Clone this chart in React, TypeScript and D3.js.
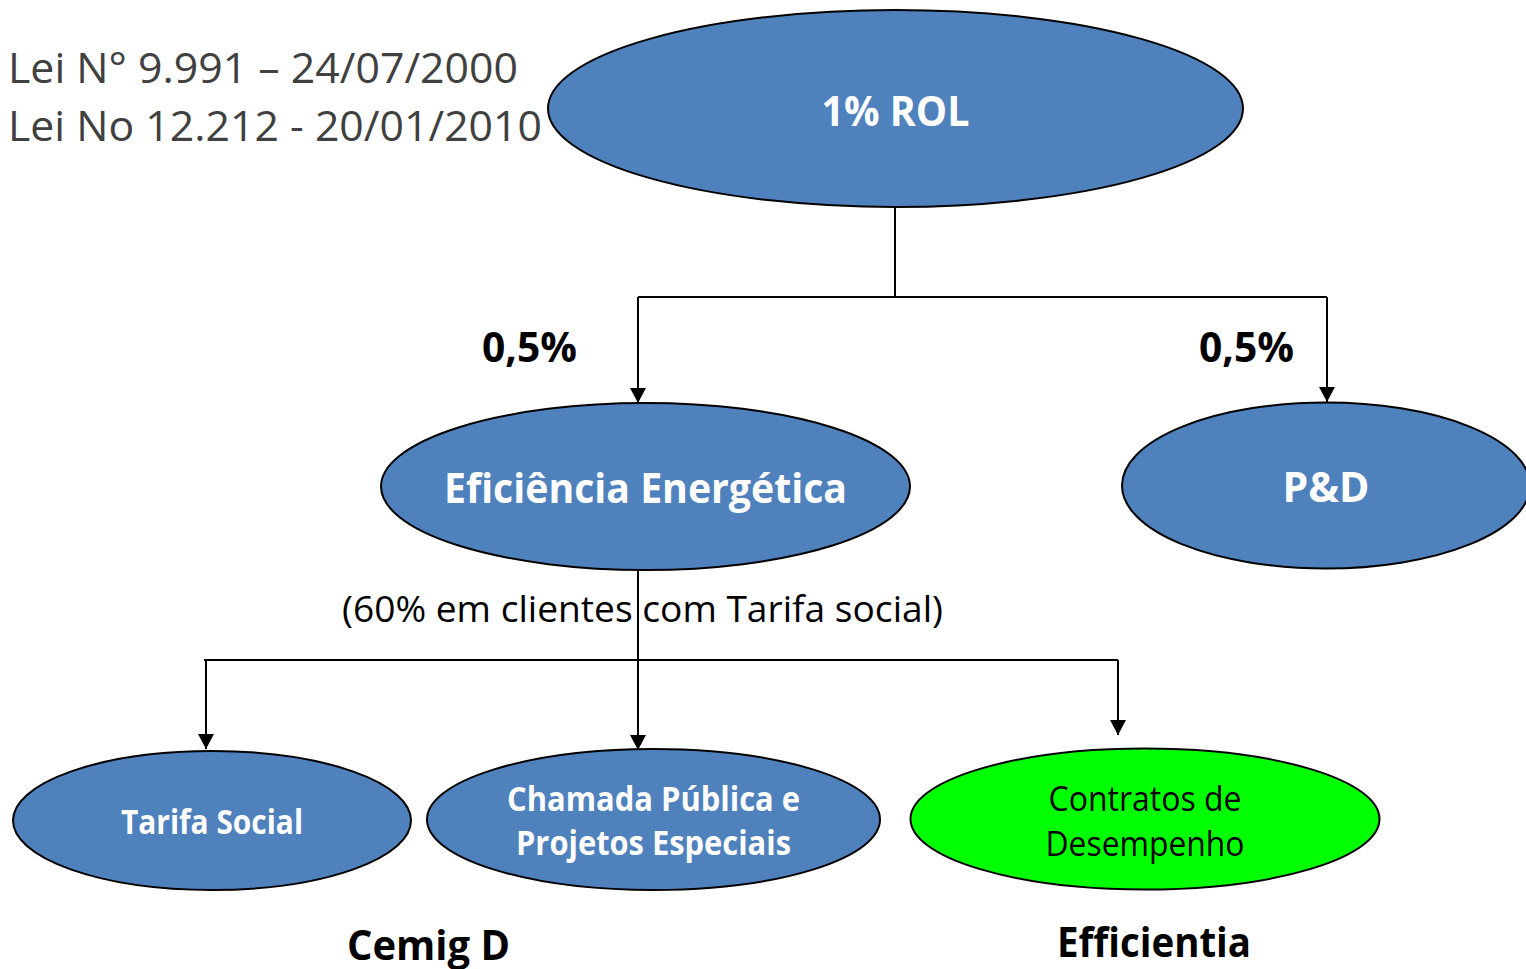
import React, { useEffect, useRef } from 'react';
import * as d3 from 'd3';

// node labels (multi-line labels are split by "\n")
const nodeIds = ['rol', 'ee', 'pd', 'ts', 'cp', 'cd'];
const nodeLabels = ['1% ROL', 'Eficiência Energética', 'P&D', 'Tarifa Social', 'Chamada Pública e\nProjetos Especiais', 'Contratos de\nDesempenho'];
const nodeFills = ['#4F81BD', '#4F81BD', '#4F81BD', '#4F81BD', '#4F81BD', '#00FF00'];
const nodeTextColors = ['#ffffff', '#ffffff', '#ffffff', '#ffffff', '#ffffff', '#000000'];
const nodeBold = [true, true, true, true, true, false];

const lawLines = ['Lei N° 9.991 – 24/07/2000', 'Lei No 12.212 - 20/01/2010'];
const shareLabels = ['0,5%', '0,5%'];
const noteLabel = '(60% em clientes com Tarifa social)';
const groupLabels = ['Cemig D', 'Efficientia'];

const W = 1526;
const H = 969;
const FONT = "'Open Sans', 'DejaVu Sans', sans-serif";

// layout of the diagram
const layout: Record<string, { cx: number; cy: number; rx: number; ry: number; size: number; lines: number[]; widths: number[] }> = {
  rol: { cx: 895.5, cy: 108.5, rx: 347.5, ry: 98.5, size: 42, lines: [126], widths: [148] },
  ee: { cx: 645.5, cy: 486.5, rx: 264.5, ry: 83.5, size: 42, lines: [503], widths: [403] },
  pd: { cx: 1326, cy: 485.5, rx: 204, ry: 83, size: 42, lines: [502], widths: [87] },
  ts: { cx: 212, cy: 820.5, rx: 199, ry: 69.5, size: 34, lines: [834], widths: [182] },
  cp: { cx: 653.5, cy: 819.5, rx: 226.5, ry: 70.5, size: 34, lines: [811, 855], widths: [293, 275] },
  cd: { cx: 1145, cy: 819, rx: 234.5, ry: 70.5, size: 34, lines: [811, 856], widths: [193, 199] },
};

export default function App() {
  const ref = useRef<SVGSVGElement | null>(null);

  useEffect(() => {
    if (!ref.current) return;
    const svg = d3.select(ref.current);
    svg.selectAll('*').remove();

    svg.append('rect').attr('width', W).attr('height', H).attr('fill', '#ffffff');

    const defs = svg.append('defs');
    defs
      .append('marker')
      .attr('id', 'arrow')
      .attr('viewBox', '0 0 16 15')
      .attr('refX', 8)
      .attr('refY', 15)
      .attr('markerWidth', 16)
      .attr('markerHeight', 15)
      .attr('markerUnits', 'userSpaceOnUse')
      .attr('orient', 'auto-start-reverse')
      .append('path')
      .attr('d', 'M0,0 L16,0 L8,15 Z')
      .attr('fill', '#000');

    const line = d3.line<[number, number]>();
    const conn = svg.append('g').attr('fill', 'none').attr('stroke', '#000').attr('stroke-width', 2);

    const rol = layout.rol, ee = layout.ee, pd = layout.pd;
    // top split
    conn.append('path').attr('d', line([[rol.cx - 0.5, rol.cy + rol.ry], [rol.cx - 0.5, 297]]));
    conn.append('path').attr('d', line([[638, 297], [1327, 297]]));
    conn
      .append('path')
      .attr('d', line([[638, 297], [638, ee.cy - ee.ry - 0.5]]))
      .attr('marker-end', null);
    conn.append('path').attr('d', line([[1327, 297], [1327, pd.cy - pd.ry - 0.5]]));

    // bottom split
    conn.append('path').attr('d', line([[638, ee.cy + ee.ry], [638, 749]]));
    conn.append('path').attr('d', line([[204, 660], [1118, 660]]));
    conn.append('path').attr('d', line([[206, 660], [206, 749]]));
    conn.append('path').attr('d', line([[1118, 660], [1118, 735]]));

    // arrowheads
    const heads: [number, number][] = [
      [638, 403],
      [1327, 402],
      [206, 749],
      [638, 750],
      [1118, 735],
    ];
    svg
      .append('g')
      .selectAll('path')
      .data(heads)
      .enter()
      .append('path')
      .attr('d', (d) => `M${d[0] - 8},${d[1] - 15} L${d[0] + 8},${d[1] - 15} L${d[0]},${d[1]} Z`)
      .attr('fill', '#000');

    // nodes
    const nodes = nodeIds.map((id, i) => ({
      id,
      label: nodeLabels[i],
      fill: nodeFills[i],
      color: nodeTextColors[i],
      bold: nodeBold[i],
      ...layout[id],
    }));

    const g = svg.append('g');
    const node = g.selectAll('g.node').data(nodes).enter().append('g').attr('class', 'node');
    node
      .append('ellipse')
      .attr('cx', (d) => d.cx)
      .attr('cy', (d) => d.cy)
      .attr('rx', (d) => d.rx)
      .attr('ry', (d) => d.ry)
      .attr('fill', (d) => d.fill)
      .attr('stroke', '#000')
      .attr('stroke-width', 2);

    node.each(function (d) {
      const parts = d.label.split('\n');
      parts.forEach((p, k) => {
        d3.select(this)
          .append('text')
          .attr('x', d.cx)
          .attr('y', d.lines[k])
          .attr('text-anchor', 'middle')
          .attr('font-family', FONT)
          .attr('font-size', d.size)
          .attr('font-weight', d.bold ? 700 : 400)
          .attr('fill', d.color)
          .attr('textLength', d.widths[k])
          .attr('lengthAdjust', 'spacingAndGlyphs')
          .text(p);
      });
    });

    // law references
    svg
      .append('g')
      .selectAll('text')
      .data(lawLines)
      .enter()
      .append('text')
      .attr('x', 8)
      .attr('y', (_d, i) => [83, 141][i])
      .attr('font-family', FONT)
      .attr('font-size', 42)
      .attr('fill', '#404040')
      .attr('textLength', (_d, i) => [510, 534][i])
      .attr('lengthAdjust', 'spacingAndGlyphs')
      .text((d) => d);

    // share labels
    svg
      .append('g')
      .selectAll('text')
      .data(shareLabels)
      .enter()
      .append('text')
      .attr('x', (_d, i) => [482, 1199][i])
      .attr('y', 362)
      .attr('font-family', FONT)
      .attr('font-size', 42)
      .attr('font-weight', 700)
      .attr('fill', '#000')
      .attr('textLength', 95)
      .attr('lengthAdjust', 'spacingAndGlyphs')
      .text((d) => d);

    // note
    svg
      .append('text')
      .attr('x', 342)
      .attr('y', 622)
      .attr('font-family', FONT)
      .attr('font-size', 36)
      .attr('fill', '#000')
      .attr('textLength', 601)
      .attr('lengthAdjust', 'spacingAndGlyphs')
      .text(noteLabel);

    // group labels
    svg
      .append('g')
      .selectAll('text')
      .data(groupLabels)
      .enter()
      .append('text')
      .attr('x', (_d, i) => [347, 1057][i])
      .attr('y', (_d, i) => [960, 957][i])
      .attr('font-family', FONT)
      .attr('font-size', 42)
      .attr('font-weight', 700)
      .attr('fill', '#000')
      .attr('textLength', (_d, i) => [163, 194][i])
      .attr('lengthAdjust', 'spacingAndGlyphs')
      .text((d) => d);
  }, []);

  return (
    <svg
      ref={ref}
      width={W}
      height={H}
      style={{ position: 'absolute', left: 0, top: 0, display: 'block' }}
    />
  );
}
